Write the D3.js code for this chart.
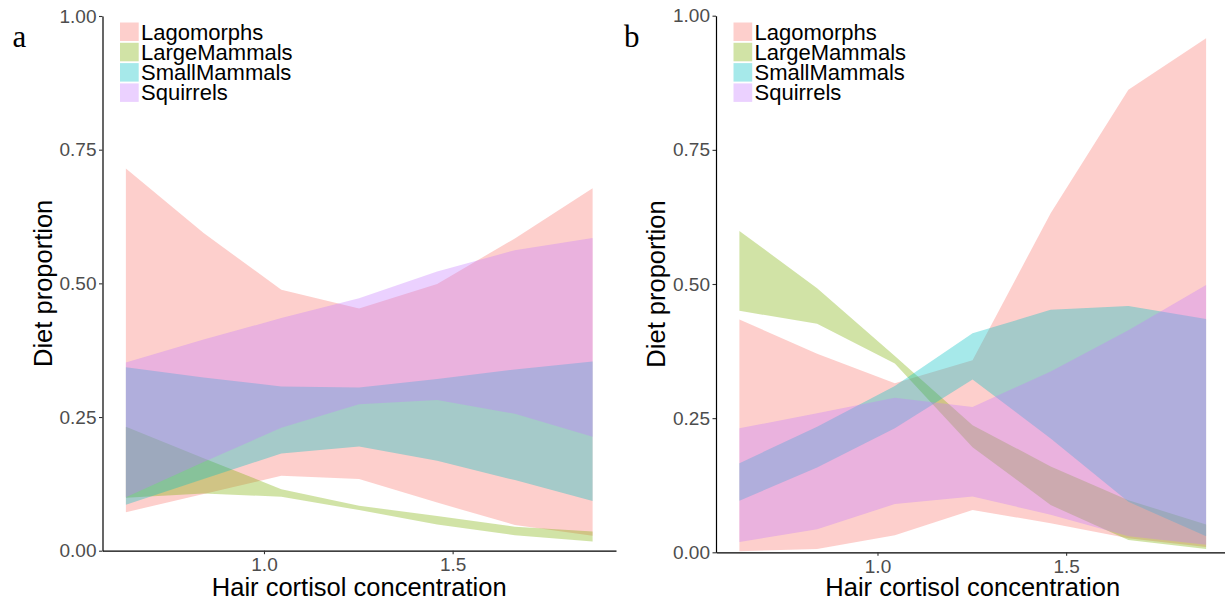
<!DOCTYPE html>
<html>
<head>
<meta charset="utf-8">
<script src="https://cdn.jsdelivr.net/npm/d3@7"></script>
<style>
  html, body { margin: 0; padding: 0; background: #ffffff; }
  svg { display: block; }
  text { font-family: "Liberation Sans", Arial, Helvetica, sans-serif; }
</style>
</head>
<body>
<svg id="chart" width="1225" height="602"></svg>
<script>
// Hair cortisol concentration at which the diet proportions are predicted
const cortisol = [0.634, 0.840, 1.046, 1.252, 1.459, 1.665, 1.871];

const groups = ["Lagomorphs", "LargeMammals", "SmallMammals", "Squirrels"];
const groupColors = ["#F8766D", "#7CAE00", "#00BFC4", "#C77CFF"];

const yTicks = [0, 0.25, 0.5, 0.75, 1];
const xTicks = [1.0, 1.5];

// Panel a: lower / upper bounds of predicted diet proportion
const lagoA_lo  = [0.072, 0.106, 0.140, 0.134, 0.090, 0.048, 0.028];
const lagoA_hi  = [0.715, 0.594, 0.488, 0.453, 0.499, 0.584, 0.678];
const largeA_lo = [0.099, 0.107, 0.101, 0.076, 0.049, 0.029, 0.017];
const largeA_hi = [0.232, 0.173, 0.115, 0.084, 0.065, 0.045, 0.036];
const smallA_lo = [0.086, 0.134, 0.182, 0.195, 0.168, 0.132, 0.093];
const smallA_hi = [0.343, 0.324, 0.307, 0.305, 0.321, 0.339, 0.354];
const squirA_lo = [0.100, 0.166, 0.230, 0.274, 0.282, 0.256, 0.213];
const squirA_hi = [0.352, 0.395, 0.435, 0.472, 0.522, 0.562, 0.585];

// Panel b: lower / upper bounds of predicted diet proportion
const lagoB_lo  = [0.002, 0.006, 0.032, 0.079, 0.054, 0.026, 0.010];
const lagoB_hi  = [0.434, 0.370, 0.315, 0.358, 0.632, 0.862, 0.958];
const largeB_lo = [0.450, 0.426, 0.352, 0.196, 0.088, 0.023, 0.006];
const largeB_hi = [0.599, 0.492, 0.366, 0.237, 0.160, 0.097, 0.052];
const smallB_lo = [0.096, 0.158, 0.231, 0.322, 0.212, 0.094, 0.030];
const smallB_hi = [0.166, 0.234, 0.310, 0.408, 0.452, 0.459, 0.435];
const squirB_lo = [0.019, 0.043, 0.090, 0.104, 0.070, 0.030, 0.014];
const squirB_hi = [0.231, 0.259, 0.288, 0.271, 0.337, 0.414, 0.498];

const panels = [
  {
    tag: "a", left: 102.5, right: 616, top: 16, bottom: 550.7, tagX: 12.5,
    ribbons: [[lagoA_lo, lagoA_hi], [largeA_lo, largeA_hi], [smallA_lo, smallA_hi], [squirA_lo, squirA_hi]]
  },
  {
    tag: "b", left: 716, right: 1229.5, top: 15.7, bottom: 552.3, tagX: 624,
    ribbons: [[lagoB_lo, lagoB_hi], [largeB_lo, largeB_hi], [smallB_lo, smallB_hi], [squirB_lo, squirB_hi]]
  }
];

const svg = d3.select("#chart");
const fillAlpha = 0.35;

panels.forEach(p => {
  const g = svg.append("g");

  const x = d3.scaleLinear().domain([0.572, 1.933]).range([p.left, p.right]);
  const y = d3.scaleLinear().domain([0, 1]).range([p.bottom, p.top]);

  // ribbons, drawn in factor order so later groups sit on top
  p.ribbons.forEach((r, k) => {
    const [lo, hi] = r;
    const area = d3.area()
      .x((d, i) => x(cortisol[i]))
      .y0((d, i) => y(lo[i]))
      .y1((d, i) => y(hi[i]));
    g.append("path")
      .datum(cortisol)
      .attr("d", area)
      .attr("fill", groupColors[k])
      .attr("fill-opacity", fillAlpha)
      .attr("stroke", "none");
  });

  // y axis
  const yAxis = g.append("g")
    .attr("transform", `translate(${p.left},0)`)
    .call(d3.axisLeft(y).tickValues(yTicks).tickFormat(d3.format(".2f"))
      .tickSize(3.5).tickSizeOuter(0).tickPadding(2.5));
  // x axis
  const xAxis = g.append("g")
    .attr("transform", `translate(0,${p.bottom})`)
    .call(d3.axisBottom(x).tickValues(xTicks).tickFormat(d3.format(".1f"))
      .tickSize(3.5).tickSizeOuter(0).tickPadding(3.5));

  [yAxis, xAxis].forEach(ax => {
    ax.select(".domain").attr("stroke", "#000").attr("stroke-width", 1.2);
    ax.selectAll(".tick line").attr("stroke", "#333333").attr("stroke-width", 1.1);
    ax.selectAll(".tick text")
      .attr("fill", "#4D4D4D")
      .style("font-size", "19px")
      .style("font-family", "'Liberation Sans', Arial, sans-serif");
  });

  // axis titles
  g.append("text")
    .attr("transform", `translate(${p.left - 50.8},${(p.top + p.bottom) / 2}) rotate(-90)`)
    .attr("text-anchor", "middle")
    .style("font-size", "25.5px")
    .attr("fill", "#000")
    .text("Diet proportion");

  g.append("text")
    .attr("x", (p.left + p.right) / 2)
    .attr("y", 595.5)
    .attr("text-anchor", "middle")
    .style("font-size", "25.5px")
    .attr("fill", "#000")
    .text("Hair cortisol concentration");

  // panel tag
  g.append("text")
    .attr("x", p.tagX)
    .attr("y", 46.6)
    .style("font-family", "'Liberation Serif', 'Times New Roman', serif")
    .style("font-size", "31px")
    .attr("fill", "#000")
    .text(p.tag);

  // legend
  const legX = p.left + 17.5;
  const leg = g.append("g");
  groups.forEach((name, k) => {
    const top = 22.5 + k * 20.3;
    leg.append("rect")
      .attr("x", legX)
      .attr("y", top)
      .attr("width", 18.7)
      .attr("height", 18.5)
      .attr("fill", groupColors[k])
      .attr("fill-opacity", fillAlpha);
    leg.append("text")
      .attr("x", legX + 21)
      .attr("y", top + 17)
      .style("font-size", "22px")
      .attr("fill", "#000")
      .text(name);
  });
});
</script>
</body>
</html>
